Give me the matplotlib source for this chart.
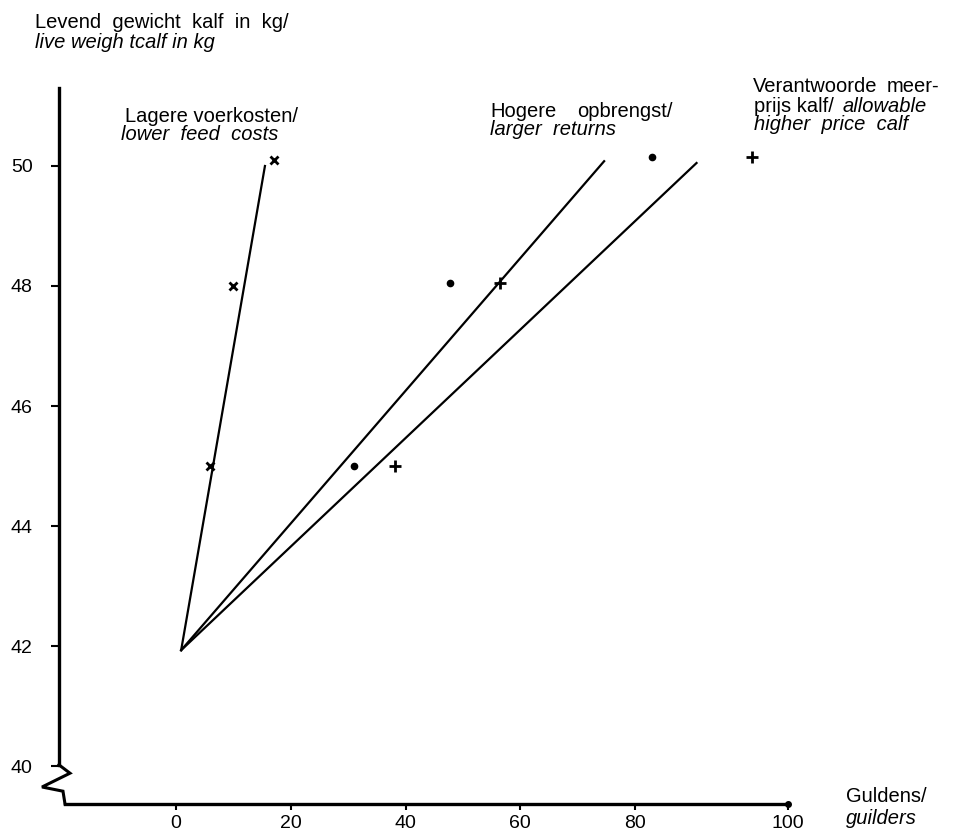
import matplotlib
matplotlib.use("Agg")
import matplotlib.pyplot as plt

plt.rcParams['font.family'] = ['Liberation Sans', 'DejaVu Sans']
plt.rcParams['font.size'] = 14

# fitted lines: common start point and end points per series
line_start = (0.9, 41.93)
feed_line_end = (15.5, 50.0)
returns_line_end = (74.6, 50.08)
price_line_end = (90.7, 50.05)

# observed points (guilders, kg)
feed_x = [5.9, 10.0, 17.1]
feed_y = [45.0, 48.0, 50.1]
returns_x = [31.0, 47.7, 82.9]
returns_y = [45.0, 48.05, 50.15]
price_x = [38.2, 56.4, 100.3]
price_y = [45.0, 48.05, 50.15]

y_ticks = [40, 42, 44, 46, 48, 50]
x_ticks = [0, 20, 40, 60, 80, 106.6]
x_ticklabels = ['0', '20', '40', '60', '80', '100']

W, H = 957, 830
fig = plt.figure(figsize=(W / 100, H / 100), dpi=100)
# axes placed so that x=0 -> px 176, 5.74 px/unit; y=42 -> px 646, 60 px/unit
ax = fig.add_axes([32.5 / W, 4 / H, (836 - 32.5) / W, (826 - 46) / H])
ax.set_xlim(-25, 115)
ax.set_ylim(39, 52)

for end in (feed_line_end, returns_line_end, price_line_end):
    ax.plot([line_start[0], end[0]], [line_start[1], end[1]], color='black', lw=1.6)

ax.plot(feed_x, feed_y, 'x', color='black', ms=6, mew=2)
ax.plot(returns_x, returns_y, 'o', color='black', ms=4.5)
ax.plot(price_x, price_y, '+', color='black', ms=9, mew=2)

# axes frame
for s in ('top', 'right'):
    ax.spines[s].set_visible(False)
ax.spines['left'].set_position(('data', -20.4))
ax.spines['left'].set_bounds(40.02, 51.3)
ax.spines['bottom'].set_position(('data', 39.37))
ax.spines['bottom'].set_bounds(-19.34, 106.6)
ax.spines['left'].set_linewidth(2.4)
ax.spines['bottom'].set_linewidth(2.4)

# axis break zigzag
ax.plot([-20.4, -18.47, -23.34, -19.69, -19.34],
        [40.02, 39.88, 39.65, 39.58, 39.37],
        color='black', lw=2.2, clip_on=False, solid_joinstyle='miter')
ax.plot([106.6], [39.37], 'o', color='black', ms=4, clip_on=False)

ax.set_yticks(y_ticks)
ax.set_xticks(x_ticks)
ax.set_xticklabels(x_ticklabels)
ax.tick_params(axis='y', length=6, width=1.5, pad=13, labelsize=14)
ax.tick_params(axis='x', length=4, width=1.5, pad=4, labelsize=14)


def put(x, y, s, italic=False):
    fig.text(x / W, 1 - y / H, s, ha='left', va='baseline', fontsize=14.5,
             style='italic' if italic else 'normal')


put(35, 28, 'Levend  gewicht  kalf  in  kg/')
put(35, 48, 'live weigh tcalf in kg', italic=True)
put(125, 122, 'Lagere voerkosten/')
put(121, 140, 'lower  feed  costs', italic=True)
put(490, 117, 'Hogere')
put(577, 117, 'opbrengst/')
put(490, 135, 'larger  returns', italic=True)
put(753, 92, 'Verantwoorde')
put(887, 92, 'meer-')
put(754, 112, 'prijs kalf/')
put(843, 112, 'allowable', italic=True)
put(754, 130, 'higher  price  calf', italic=True)
put(846, 802, 'Guldens/')
put(846, 824, 'guilders', italic=True)

fig.savefig('out.png', dpi=100)
